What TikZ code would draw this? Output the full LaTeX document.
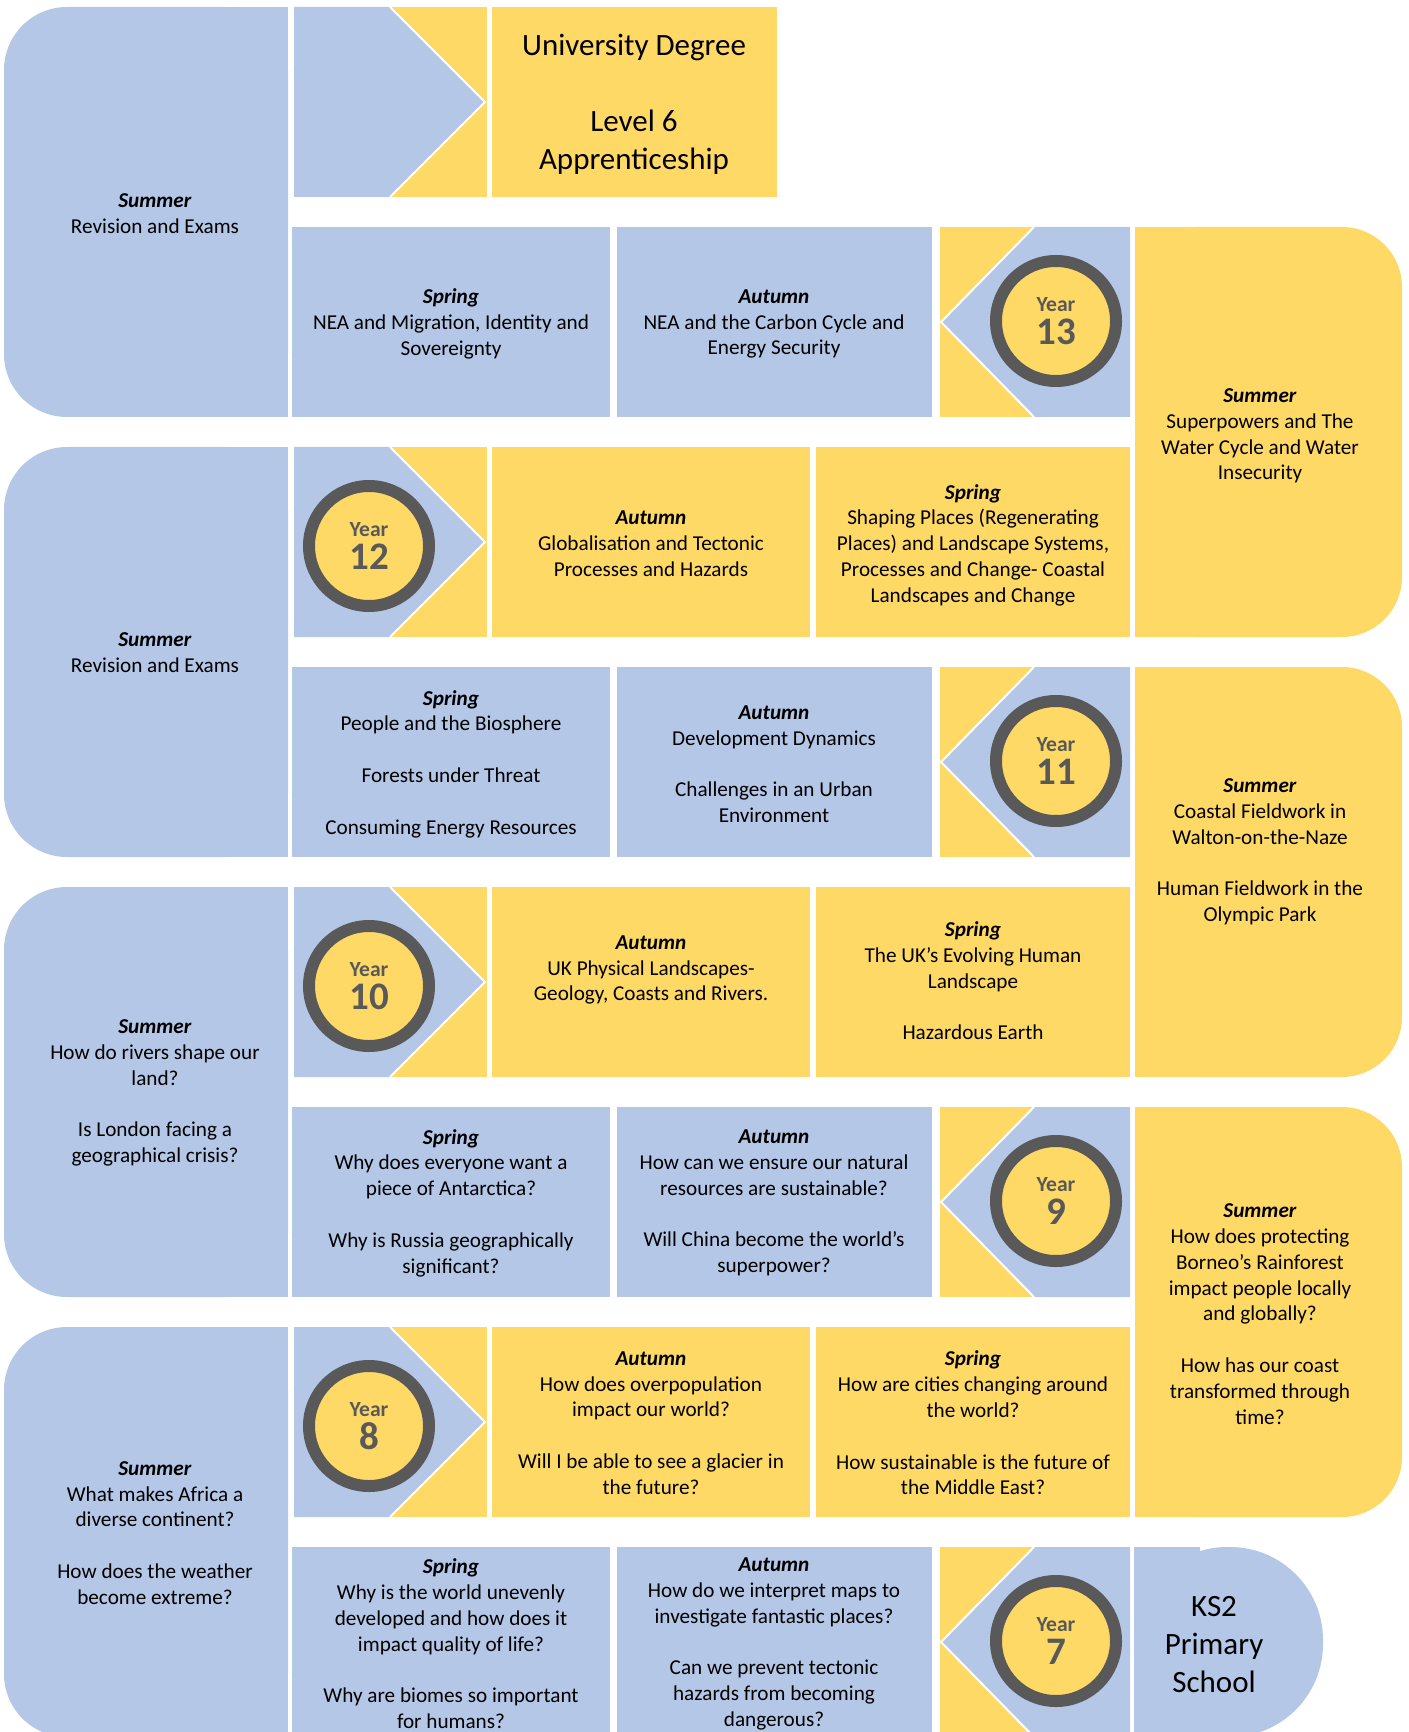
\documentclass[tikz,border=0pt]{standalone}
\usepackage{fontspec}
\setmainfont{Carlito}

\definecolor{skyblue}{HTML}{B4C7E7}
\definecolor{gold}{HTML}{FFD966}
\definecolor{ringgray}{HTML}{595959}

\newcommand{\bodyfont}{\fontsize{10.6}{12.9}\selectfont}
\newcommand{\titlefont}{\fontsize{15.5}{19}\selectfont}
\newcommand{\season}[1]{\textbf{\textit{#1}}}
\newcommand{\gap}{\\[12.9pt]}
\newcommand{\yearno}[1]{Year\\{\fontsize{19.5}{16.8}\selectfont #1}}

\begin{document}
\begin{tikzpicture}[x=0.5pt, y=-0.5pt,
        bluebox/.style={fill=skyblue},
        goldbox/.style={fill=gold},
        cut/.style={draw=white, line width=1pt},
        txt/.style={align=center, font=\bodyfont, inner sep=0pt, yshift=-2.5pt},
        bigtxt/.style={align=center, font=\titlefont, inner sep=0pt, yshift=-1.2pt},
        yearring/.style={circle, draw=ringgray, line width=6pt, fill=gold,
            minimum size=60pt, inner sep=0pt, align=center, text=ringgray,
            font=\fontsize{10.8}{16.8}\selectfont\bfseries}]

        \useasboundingbox (0,0) rectangle (1408,1732);

        \clip (0,0) rectangle (1408,1732);

        \fill[bluebox, rounded corners=31.5pt] (4,7) rectangle (288,417);
        \fill[bluebox] (150,7) rectangle (288,417);

        \fill[bluebox, rounded corners=31.5pt] (4,447) rectangle (288,857);
        \fill[bluebox] (150,447) rectangle (288,857);

        \fill[bluebox, rounded corners=31.5pt] (4,887) rectangle (288,1297);
        \fill[bluebox] (150,887) rectangle (288,1297);

        \fill[bluebox, rounded corners=31.5pt] (4,1327) rectangle (288,1737);
        \fill[bluebox] (150,1327) rectangle (288,1737);

        \fill[goldbox, rounded corners=30pt] (1135,227) rectangle (1402,637);
        \fill[goldbox] (1135,227) rectangle (1300,637);

        \fill[goldbox, rounded corners=30pt] (1135,667) rectangle (1402,1077);
        \fill[goldbox] (1135,667) rectangle (1300,1077);

        \fill[goldbox, rounded corners=30pt] (1135,1107) rectangle (1402,1517);
        \fill[goldbox] (1135,1107) rectangle (1300,1517);

        \fill[bluebox, rounded corners=46.5pt] (1134,1547) rectangle (1323,1737);
        \fill[bluebox] (1134,1547) rectangle (1200,1737);

        \fill[goldbox] (294,7) rectangle (487,197);
        \fill[bluebox] (294,7) -- (390,7) -- (485,102) -- (390,197) -- (294,197) -- cycle;
        \draw[cut] (390,7) -- (485,102) -- (390,197);

        \fill[goldbox] (294,447) rectangle (487,637);
        \fill[bluebox] (294,447) -- (390,447) -- (485,542) -- (390,637) -- (294,637) -- cycle;
        \draw[cut] (390,447) -- (485,542) -- (390,637);

        \fill[goldbox] (294,887) rectangle (487,1077);
        \fill[bluebox] (294,887) -- (390,887) -- (485,982) -- (390,1077) -- (294,1077) -- cycle;
        \draw[cut] (390,887) -- (485,982) -- (390,1077);

        \fill[goldbox] (294,1327) rectangle (487,1517);
        \fill[bluebox] (294,1327) -- (390,1327) -- (485,1422) -- (390,1517) -- (294,1517) -- cycle;
        \draw[cut] (390,1327) -- (485,1422) -- (390,1517);

        \fill[goldbox] (940,227) rectangle (1130,417);
        \fill[bluebox] (1130,227) -- (1034,227) -- (941,322) -- (1034,417) -- (1130,417) -- cycle;
        \draw[cut] (1034,227) -- (941,322) -- (1034,417);

        \fill[goldbox] (940,667) rectangle (1130,857);
        \fill[bluebox] (1130,667) -- (1034,667) -- (941,762) -- (1034,857) -- (1130,857) -- cycle;
        \draw[cut] (1034,667) -- (941,762) -- (1034,857);

        \fill[goldbox] (940,1107) rectangle (1130,1297);
        \fill[bluebox] (1130,1107) -- (1034,1107) -- (941,1202) -- (1034,1297) -- (1130,1297) -- cycle;
        \draw[cut] (1034,1107) -- (941,1202) -- (1034,1297);

        \fill[goldbox] (940,1547) rectangle (1130,1737);
        \fill[bluebox] (1130,1547) -- (1034,1547) -- (941,1642) -- (1034,1737) -- (1130,1737) -- cycle;
        \draw[cut] (1034,1547) -- (941,1642) -- (1034,1737);

        \fill[goldbox] (492,7) rectangle (777,197);

        \fill[bluebox] (292,227) rectangle (610,417);
        \fill[bluebox] (617,227) rectangle (932,417);

        \fill[goldbox] (492,447) rectangle (810,637);
        \fill[goldbox] (816,447) rectangle (1130,637);

        \fill[bluebox] (292,667) rectangle (610,857);
        \fill[bluebox] (617,667) rectangle (932,857);

        \fill[goldbox] (492,887) rectangle (810,1077);
        \fill[goldbox] (816,887) rectangle (1130,1077);

        \fill[bluebox] (292,1107) rectangle (610,1297);
        \fill[bluebox] (617,1107) rectangle (932,1297);

        \fill[goldbox] (492,1327) rectangle (810,1517);
        \fill[goldbox] (816,1327) rectangle (1130,1517);

        \fill[bluebox] (292,1547) rectangle (610,1737);
        \fill[bluebox] (617,1547) rectangle (932,1737);

        \node[yearring] (year13) at (1056,321) {\yearno{13}};
        \node[yearring] (year12) at (369,546) {\yearno{12}};
        \node[yearring] (year11) at (1056,761) {\yearno{11}};
        \node[yearring] (year10) at (369,986) {\yearno{10}};
        \node[yearring] (year9) at (1056,1201) {\yearno{9}};
        \node[yearring] (year8) at (369,1426) {\yearno{8}};
        \node[yearring] (year7) at (1056,1641) {\yearno{7}};

        \node[bigtxt] (uni) at (634,102) {University Degree\\[19pt]Level 6\\Apprenticeship};

        \node[txt] (summer1) at (155,209) {\season{Summer}\\Revision and Exams};

        \node[txt] (spring13) at (451,319) {\season{Spring}\\NEA and Migration, Identity and\\Sovereignty};

        \node[txt] (autumn13) at (774,319) {\season{Autumn}\\NEA and the Carbon Cycle and\\Energy Security};

        \node[txt] (summer13) at (1260,431) {\season{Summer}\\Superpowers and The\\Water Cycle and Water\\Insecurity};

        \node[txt] (summer2) at (155,648) {\season{Summer}\\Revision and Exams};

        \node[txt] (autumn12) at (651,539) {\season{Autumn}\\Globalisation and Tectonic\\Processes and Hazards};

        \node[txt] (spring12) at (973,540) {\season{Spring}\\Shaping Places (Regenerating\\Places) and Landscape Systems,\\Processes and Change- Coastal\\Landscapes and Change};

        \node[txt] (spring11) at (451,759) {\season{Spring}\\People and the Biosphere\gap Forests under Threat\gap Consuming Energy Resources};

        \node[txt] (autumn11) at (774,759) {\season{Autumn}\\Development Dynamics\gap Challenges in an Urban\\Environment};

        \node[txt] (summer11) at (1260,847) {\season{Summer}\\Coastal Fieldwork in\\Walton-on-the-Naze\gap Human Fieldwork in the\\Olympic Park};

        \node[txt] (summer3) at (155,1088) {\season{Summer}\\How do rivers shape our\\land?\gap Is London facing a\\geographical crisis?};

        \node[txt] (autumn10) at (651,965) {\season{Autumn}\\UK Physical Landscapes-\\Geology, Coasts and Rivers.};

        \node[txt] (spring10) at (973,976) {\season{Spring}\\The UK’s Evolving Human\\Landscape\gap Hazardous Earth};

        \node[txt] (spring9) at (451,1198) {\season{Spring}\\Why does everyone want a\\piece of Antarctica?\gap Why is Russia geographically\\significant?};

        \node[txt] (autumn9) at (774,1198) {\season{Autumn}\\How can we ensure our natural\\resources are sustainable?\gap Will China become the world’s\\superpower?};

        \node[txt] (summer9) at (1260,1309) {\season{Summer}\\How does protecting\\Borneo’s Rainforest\\impact people locally\\and globally?\gap How has our coast\\transformed through\\time?};

        \node[txt] (summer4) at (155,1528) {\season{Summer}\\What makes Africa a\\diverse continent?\gap How does the weather\\become extreme?};

        \node[txt] (autumn8) at (651,1418) {\season{Autumn}\\How does overpopulation\\impact our world?\gap Will I be able to see a glacier in\\the future?};

        \node[txt] (spring8) at (973,1418) {\season{Spring}\\How are cities changing around\\the world?\gap How sustainable is the future of\\the Middle East?};

        \node[txt] (spring7) at (451,1639) {\season{Spring}\\Why is the world unevenly\\developed and how does it\\impact quality of life?\gap Why are biomes so important\\for humans?};

        \node[txt] (autumn7) at (774,1639) {\season{Autumn}\\How do we interpret maps to\\investigate fantastic places?\gap Can we prevent tectonic\\hazards from becoming\\dangerous?};

        \node[bigtxt] (ks2) at (1214,1642) {KS2\\Primary\\School};
    \end{tikzpicture}
\end{document}
